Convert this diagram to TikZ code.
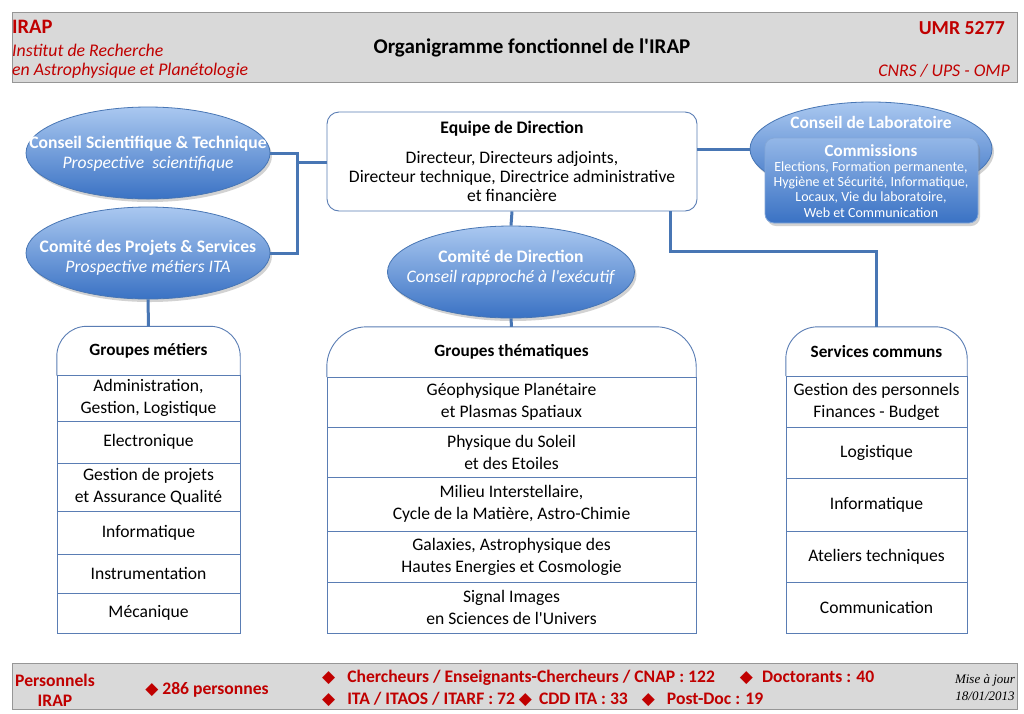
\documentclass[tikz,border=0pt]{standalone}
\usepackage{fontspec}
\setmainfont{Carlito}
\newfontfamily\symfont{DejaVu Sans}
\newfontfamily\timesfont{Liberation Serif}
\usetikzlibrary{shapes.geometric,shadows}
\definecolor{irapred}{RGB}{192,0,0}
\definecolor{bannerfill}{RGB}{217,217,217}
\definecolor{bannerline}{RGB}{150,150,150}
\definecolor{linkblue}{RGB}{72,118,180}
\definecolor{boxline}{RGB}{90,125,180}
\definecolor{elltop}{RGB}{170,200,240}
\definecolor{ellbot}{RGB}{58,114,196}
\newcommand{\losange}{{\symfont\fontsize{17}{17}\selectfont ◆}}
\newcommand{\apos}{\textquotesingle}
\tikzset{
  banner/.style = {draw=bannerline, fill=bannerfill, minimum width=1005,
    inner sep=0pt, line width=1pt},
  redtext/.style = {text=irapred, inner sep=0pt},% textes rouges du bandeau
  council/.style = {ellipse, draw=linkblue, line width=0.8pt, top color=elltop,
    bottom color=ellbot, minimum width=244, minimum height=92, inner sep=0pt,
    drop shadow={opacity=0.35, shadow xshift=2pt, shadow yshift=-3pt}},
  counciltext/.style = {text=white, align=center, inner sep=0pt,
    font=\fontsize{17.6}{20}\selectfont},
  dirbox/.style = {draw=boxline, rounded corners=12, line width=0.9pt,
    minimum width=370, minimum height=99, align=center, inner sep=0pt,
    font=\fontsize{17.6}{19}\selectfont},
  grouphead/.style = {minimum height=49, inner sep=0pt,
    font=\bfseries\fontsize{17.2}{18}\selectfont},
  grouprow/.style = {draw=boxline, line width=0.9pt, align=center, inner sep=0pt,
    font=\fontsize{17.6}{22}\selectfont},
  link/.style = {draw=linkblue, line width=3pt},
  foottext/.style = {text=irapred, inner sep=0pt,
    font=\bfseries\fontsize{17.6}{20}\selectfont}
}
\begin{document}
\begin{tikzpicture}[x=1pt,y=-1pt]
\useasboundingbox[fill=white] (0,0) rectangle (1024,713);

% bandeau du haut
\node [banner, minimum height=70] (top) at (514.5,47.5) {};
\node [redtext, anchor=west, font=\bfseries\fontsize{20.5}{22}\selectfont] (irap) at (12,27) {IRAP};
\node [redtext, anchor=west, font=\itshape\fontsize{17.8}{18}\selectfont] (irap-a) at (12,50) {Institut de Recherche};
\node [redtext, anchor=west, font=\itshape\fontsize{17.8}{18}\selectfont] (irap-b) at (12,71) {en Astrophysique et Planétologie};
\node [inner sep=0pt, font=\bfseries\fontsize{21}{22}\selectfont] (titre) at (532,48) {Organigramme fonctionnel de l\apos IRAP};
\node [redtext, anchor=east, font=\bfseries\fontsize{19.8}{22}\selectfont] (umr) at (1005,28) {UMR 5277};
\node [redtext, anchor=east, font=\itshape\fontsize{17.8}{18}\selectfont] (tutelles) at (1010,71) {CNRS\ /\ UPS\ -\ OMP};

% conseils
\node [council] (cst) at (148,153) {};
\node [counciltext] (cst-t) at (148,154) {\textbf{Conseil Scientifique \& Technique}\\\textit{Prospective\ \ scientifique}};
\node [council] (cps) at (148,253) {};
\node [counciltext] (cps-t) at (148,258) {\textbf{Comité des Projets \& Services}\\\textit{Prospective métiers ITA}};
\node [council, minimum width=247] (cd) at (511,272) {};
\node [counciltext] (cd-t) at (511,268) {\textbf{Comité de Direction}\\\textit{Conseil rapproché à l\apos exécutif}};
\node [council, minimum width=242, minimum height=94] (cl) at (871,149) {};
\node [counciltext, font=\bfseries\fontsize{17.4}{20}\selectfont] (cl-t) at (871,122) {Conseil de Laboratoire};
\node [council, rectangle, rounded corners=9, draw=elltop!60!linkblue, top color=elltop!80!ellbot,
  minimum width=213, minimum height=85] (com) at (871.5,180.5) {};
\node [counciltext, font=\bfseries\fontsize{17}{18}\selectfont] (com-t) at (871,151) {Commissions};
\node [counciltext, font=\fontsize{14}{15.3}\selectfont] (com-l) at (871,189.5) {Elections, Formation permanente,\\Hygiène et Sécurité, Informatique,\\Locaux, Vie du laboratoire,\\Web et Communication};

% equipe de direction
\node [dirbox] (ed) at (512,161.5) {\textbf{Equipe de Direction}\\[11pt]Directeur, Directeurs adjoints,\\Directeur technique, Directrice administrative\\et financière};

% groupes metiers
\node [grouphead, minimum width=183] (gm-h) at (148.5,351) {Groupes métiers};
\draw [boxline, line width=0.9pt, rounded corners=30] (gm-h.south west) -- (gm-h.north west) -- (gm-h.north east) -- (gm-h.south east);
\foreach \txt/\ya/\yb [count=\i] in {{Administration,\\Gestion, Logistique}/375/421, {Electronique}/421/463,
    {Gestion de projets\\et Assurance Qualité}/463/511, {Informatique}/511/554,
    {Instrumentation}/554/593, {Mécanique}/593/633}
  \node [grouprow, minimum width=183, minimum height=\yb-\ya] (gm-\i) at (148.5,{(\ya+\yb)/2}) {\txt};

% groupes thematiques
\node [grouphead, minimum width=369, minimum height=50] (gt-h) at (511.5,352) {Groupes thématiques};
\draw [boxline, line width=0.9pt, rounded corners=40] (gt-h.south west) -- (gt-h.north west) -- (gt-h.north east) -- (gt-h.south east);
\foreach \txt/\ya/\yb [count=\i] in {{Géophysique Planétaire\\et Plasmas Spatiaux}/377/427,
    {Physique du Soleil\\et des Etoiles}/427/477,
    {Milieu Interstellaire,\\Cycle de la Matière, Astro-Chimie}/477/531,
    {Galaxies, Astrophysique des\\Hautes Energies et Cosmologie}/531/582,
    {Signal Images\\en Sciences de l\apos Univers}/582/633}
  \node [grouprow, minimum width=369, minimum height=\yb-\ya] (gt-\i) at (511.5,{(\ya+\yb)/2}) {\txt};

% services communs
\node [grouphead, minimum width=181] (sc-h) at (876.5,351.5) {Services communs};
\draw [boxline, line width=0.9pt, rounded corners=32] (sc-h.south west) -- (sc-h.north west) -- (sc-h.north east) -- (sc-h.south east);
\foreach \txt/\ya/\yb [count=\i] in {{Gestion des personnels\\Finances - Budget}/376/427, {Logistique}/427/478,
    {Informatique}/478/531, {Ateliers techniques}/531/582, {Communication}/582/633}
  \node [grouprow, minimum width=181, minimum height=\yb-\ya] (sc-\i) at (876.5,{(\ya+\yb)/2}) {\txt};

% liaisons
\coordinate (jl) at (297,162);
\coordinate (jr) at (670,251);
\draw [link] (cst.east) -| (jl) |- (cps.east);
\draw [link] (jl) -- (jl -| ed.west);
\draw [link] (ed.north east |- cl.west) -- (cl.west);
\draw [link] (ed.south) -- (cd.north);
\draw [link] (cd.south) -- (gt-h.north);
\draw [link] (cps.south) -- (gm-h.north);
\draw [link] (jr |- ed.south) -- (jr) -| (sc-h.north);

% bandeau du bas
\node [banner, minimum height=46] (bas) at (514.5,686) {};
\node [foottext, align=center] (pers) at (55,690) {Personnels\\IRAP};
\node [foottext] (total) at (207,690) {\losange\ 286 personnes};
\node [foottext, anchor=west] (cat-a) at (322,678) {\losange\hspace{12pt}Chercheurs / Enseignants-Chercheurs / CNAP : 122\hspace{25pt}\losange\hspace{9pt}Doctorants : 40};
\node [foottext, anchor=west] (cat-b) at (322,699) {\losange\hspace{12pt}ITA / ITAOS / ITARF : 72 \losange\hspace{7pt}CDD ITA : 33\hspace{14pt}\losange\hspace{12pt}Post-Doc : 19};
\node [inner sep=0pt, align=center, font=\timesfont\itshape\fontsize{13}{17}\selectfont] (maj) at (985,688) {Mise à jour\\18/01/2013};
\end{tikzpicture}
\end{document}
